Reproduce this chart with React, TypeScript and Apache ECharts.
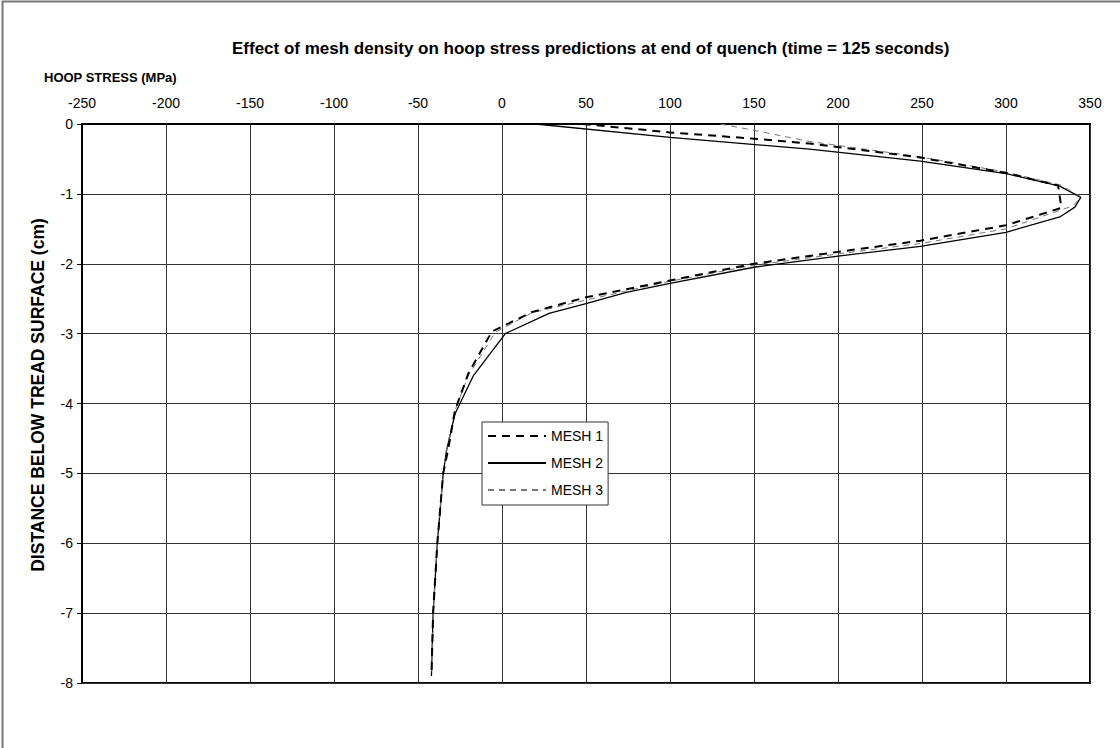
import React, { useEffect, useRef } from "react";
import * as echarts from "echarts";

const FONT = "'Liberation Sans', Arial, sans-serif";

const titleText = "Effect of mesh density on hoop stress predictions at end of quench (time = 125 seconds)";
const xAxisTitle = "HOOP STRESS (MPa)";
const yAxisTitle = "DISTANCE BELOW TREAD SURFACE (cm)";
const seriesNames = ["MESH 1", "MESH 2", "MESH 3"];

// Hoop stress (MPa) and depth (cm) for each mesh
const mesh1Stress = [48, 100, 150, 183, 249, 300, 331, 333, 300, 249, 200, 150, 100, 50, 18, -6, -20, -28, -32, -35, -38.5, -41, -42];
const mesh1Depth = [0, -0.12, -0.21, -0.28, -0.48, -0.7, -0.88, -1.2, -1.45, -1.67, -1.83, -2.0, -2.24, -2.48, -2.69, -2.97, -3.57, -4.1, -4.65, -5.0, -6.0, -7.0, -7.9];

const mesh2Stress = [20, 100, 183, 249, 300, 332, 344.5, 341, 332, 300, 249, 200, 150, 100, 74, 50, 28, 2, -17, -28, -33, -35, -38.5, -41, -42];
const mesh2Depth = [0, -0.19, -0.36, -0.53, -0.71, -0.89, -1.05, -1.19, -1.33, -1.55, -1.75, -1.89, -2.05, -2.28, -2.41, -2.57, -2.71, -3.0, -3.6, -4.15, -4.67, -5.0, -6.0, -7.0, -7.9];

const mesh3Stress = [130, 150, 183, 249, 300, 332, 344.5, 340, 300, 249, 200, 150, 100, 50, 18, -4, -20, -28, -33, -35, -38.5, -41, -42];
const mesh3Depth = [0, -0.09, -0.25, -0.47, -0.69, -0.87, -1.04, -1.17, -1.5, -1.71, -1.86, -2.02, -2.25, -2.52, -2.7, -2.98, -3.6, -4.1, -4.67, -5.0, -6.0, -7.0, -7.9];

const xMin = -250;
const xMax = 350;
const xStep = 50;
const yMin = -8;
const yMax = 0;
const yStep = 1;

const zip = (xs: number[], ys: number[]) => xs.map((x, i) => [x, ys[i]]);

export default function App() {
  const ref = useRef<HTMLDivElement>(null);
  useEffect(() => {
    if (!ref.current) return;
    const chart = echarts.init(ref.current, null, { renderer: "svg" });
    chart.setOption({
      animation: false,
      backgroundColor: "#fff",
      textStyle: { fontFamily: FONT },
      title: {
        text: titleText,
        left: 232,
        top: 40,
        padding: 0,
        textStyle: { fontFamily: FONT, fontSize: 17, fontWeight: "bold", color: "#000" },
      },
      graphic: [
        {
          type: "rect",
          shape: { x: 2.5, y: 1.5, width: 1300, height: 1000 },
          style: { fill: "none", stroke: "#777", lineWidth: 2 },
          silent: true,
        },
        {
          type: "text",
          x: 44,
          y: 77,
          style: {
            text: xAxisTitle,
            font: `bold 13px ${FONT}`,
            fill: "#000",
            textVerticalAlign: "middle",
          },
        },
        {
          type: "text",
          x: 38,
          y: 395,
          rotation: Math.PI / 2,
          style: {
            text: yAxisTitle,
            font: `bold 17.5px ${FONT}`,
            fill: "#000",
            textAlign: "center",
            textVerticalAlign: "middle",
          },
        },
      ],
      legend: {
        orient: "vertical",
        left: 482,
        top: 422,
        padding: [7, 5, 8, 5],
        itemWidth: 58,
        itemHeight: 14,
        itemGap: 13,
        backgroundColor: "#fff",
        borderColor: "#333",
        borderWidth: 1,
        borderRadius: 0,
        itemStyle: { opacity: 0 },
        textStyle: { fontFamily: FONT, fontSize: 14, color: "#000" },
        data: seriesNames,
      },
      grid: {
        left: 82,
        top: 124,
        right: 30,
        bottom: 65,
        show: true,
        borderColor: "#000",
        borderWidth: 2,
        backgroundColor: "#fff",
      },
      xAxis: {
        type: "value",
        position: "top",
        min: xMin,
        max: xMax,
        interval: xStep,
        axisLine: { show: true, onZero: false, lineStyle: { color: "#000", width: 2 } },
        axisTick: { show: false },
        axisLabel: { color: "#000", fontSize: 14, fontFamily: FONT, margin: 14 },
        splitLine: { show: true, lineStyle: { color: "#333", width: 1 } },
      },
      yAxis: {
        type: "value",
        min: yMin,
        max: yMax,
        interval: yStep,
        axisLine: { show: true, onZero: false, lineStyle: { color: "#000", width: 2 } },
        axisTick: { show: true, inside: false, length: 5, lineStyle: { color: "#000" } },
        axisLabel: { color: "#000", fontSize: 14, fontFamily: FONT, margin: 9 },
        splitLine: { show: true, lineStyle: { color: "#333", width: 1 } },
      },
      series: [
        {
          name: seriesNames[1],
          type: "line",
          symbol: "none",
          data: zip(mesh2Stress, mesh2Depth),
          lineStyle: { color: "#000", width: 1.3, type: "solid" },
          itemStyle: { color: "#000" },
          z: 3,
        },
        {
          name: seriesNames[2],
          type: "line",
          symbol: "none",
          data: zip(mesh3Stress, mesh3Depth),
          lineStyle: { color: "#777", width: 1, type: [6, 5] },
          itemStyle: { color: "#777" },
          z: 4,
        },
        {
          name: seriesNames[0],
          type: "line",
          symbol: "none",
          data: zip(mesh1Stress, mesh1Depth),
          lineStyle: { color: "#000", width: 2, type: [8, 6] },
          itemStyle: { color: "#000" },
          z: 5,
        },
      ],
    });
    return () => chart.dispose();
  }, []);
  return (
    <div
      ref={ref}
      style={{ position: "absolute", left: 0, top: 0, width: 1120, height: 748, background: "#fff" }}
    />
  );
}
